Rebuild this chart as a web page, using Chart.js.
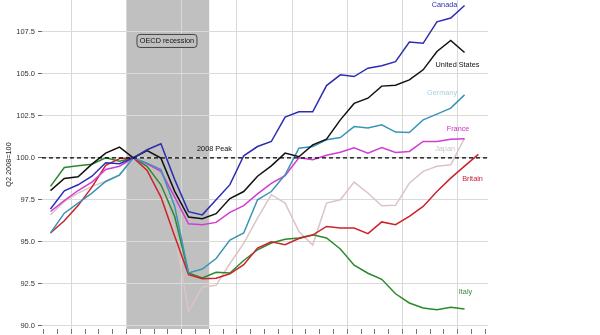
<!DOCTYPE html>
<html lang="en">
<head>
    <meta charset="UTF-8">
    <title>GDP against the 2008 peak</title>
    <script src="https://cdn.jsdelivr.net/npm/chart.js"></script>
    <style>
        html, body {
            margin: 0;
            padding: 0;
            background: #fff;
        }
        .container {
            width: 600px;
            height: 335px;
        }
    </style>
</head>
<body>
    <div class="container">
        <canvas id="gdpChart"></canvas>
    </div>
    <script>
        // quarterly real GDP, Q2 2008 = 100
        const quarters = [
            'Q4 2006',
            'Q1 2007', 'Q2 2007', 'Q3 2007', 'Q4 2007',
            'Q1 2008', 'Q2 2008', 'Q3 2008', 'Q4 2008',
            'Q1 2009', 'Q2 2009', 'Q3 2009', 'Q4 2009',
            'Q1 2010', 'Q2 2010', 'Q3 2010', 'Q4 2010',
            'Q1 2011', 'Q2 2011', 'Q3 2011', 'Q4 2011',
            'Q1 2012', 'Q2 2012', 'Q3 2012', 'Q4 2012',
            'Q1 2013', 'Q2 2013', 'Q3 2013', 'Q4 2013',
            'Q1 2014', 'Q2 2014', 'Q3 2014'
        ];

        const canada = [96.95, 98.03, 98.39, 98.9, 99.7, 99.65, 100, 100.48, 100.83, 98.7, 96.79, 96.6, 97.5, 98.4, 100.12, 100.67,
            100.97, 102.42, 102.74, 102.74, 104.3, 104.94, 104.84, 105.34, 105.48, 105.73, 106.9, 106.82, 108.1, 108.33, 109.07];
        const unitedStates = [98.04, 98.77, 98.87, 99.62, 100.28, 100.64, 100, 100.43, 99.98, 98.0, 96.47, 96.37, 96.67, 97.57, 97.99, 98.9,
            99.52, 100.28, 100.06, 100.77, 101.11, 102.26, 103.24, 103.55, 104.27, 104.32, 104.64, 105.24, 106.33, 106.99, 106.27];
        const germany = [95.52, 96.7, 97.3, 97.9, 98.59, 98.97, 100, 99.68, 99.3, 97.1, 93.14, 93.37, 94.0, 95.1, 95.52, 97.5,
            97.99, 98.99, 100.57, 100.67, 101.07, 101.21, 101.86, 101.77, 101.96, 101.53, 101.5, 102.26, 102.6, 102.96, 103.75];
        const france = [96.8, 97.45, 98.05, 98.55, 99.3, 99.5, 100, 99.64, 99.19, 97.66, 96.07, 96.01, 96.15, 96.75, 97.15, 97.85,
            98.47, 98.94, 100.0, 99.88, 100.15, 100.33, 100.6, 100.28, 100.61, 100.32, 100.38, 100.97, 100.97, 101.11, 101.13];
        const japan = [96.6, 97.4, 97.9, 98.3, 98.6, 99.0, 100, 99.6, 98.4, 95.6, 90.85, 92.3, 92.4, 93.7, 94.9, 96.4,
            97.8, 97.3, 95.6, 94.8, 97.3, 97.5, 98.55, 97.9, 97.14, 97.17, 98.49, 99.19, 99.49, 99.58, 101.17];
        const britain = [95.52, 96.25, 97.15, 98.25, 99.55, 99.95, 100, 99.25, 97.66, 95.32, 93.04, 92.8, 92.82, 93.09, 93.63, 94.62,
            94.99, 94.82, 95.19, 95.39, 95.91, 95.81, 95.81, 95.48, 96.18, 96.01, 96.51, 97.1, 97.99, 98.79, 99.5, 100.2];
        const italy = [98.3, 99.42, 99.52, 99.62, 100.0, 99.8, 100, 99.49, 98.39, 96.5, 93.14, 92.84, 93.18, 93.14, 93.88, 94.52,
            94.92, 95.14, 95.22, 95.42, 95.22, 94.57, 93.6, 93.12, 92.76, 91.9, 91.35, 91.05, 90.95, 91.09, 90.99];

        const yTicks = [90, 92.5, 95, 97.5, 100, 102.5, 105, 107.5];
        const peakLevel = 100;
        // OECD recession, in quarter-index units (edges fall between quarters)
        const recessionFrom = 5.5;
        const recessionTo = 11.5;

        const xMin = -0.616;
        const xMax = 31.7;

        const FONT = 'Liberation Sans, Arial, sans-serif';
        const SHADE = '#c0c0c0';

        const series = [
            { name: 'Canada', values: canada, color: '#2d2db4', text: '#2d2db4', at: [28.55, 109.1] },
            { name: 'United States', values: unitedStates, color: '#111111', text: '#111111', at: [29.49, 105.54] },
            { name: 'Germany', values: germany, color: '#3a94b8', text: '#a9cfe0', at: [28.37, 103.87] },
            { name: 'France', values: france, color: '#d23cd2', text: '#cc33cc', at: [29.53, 101.73] },
            { name: 'Britain', values: britain, color: '#cc2229', text: '#c8203c', at: [30.58, 98.75] },
            { name: 'Italy', values: italy, color: '#2a8a2a', text: '#3a8a3a', at: [30.07, 92.02] },
            { name: 'Japan', values: japan, color: '#dcc4c4', text: '#c9c2c2', at: [28.59, 100.54] }
        ];

        const toPoints = values => values.map((v, i) => ({ x: i, y: v }));

        const datasets = [{
            label: '2008 Peak',
            data: [{ x: xMin, y: peakLevel }, { x: xMax, y: peakLevel }],
            borderColor: '#000',
            borderWidth: 1.3,
            borderDash: [4, 3],
            pointRadius: 0
        }].concat(series.map(s => ({
            label: s.name,
            data: toPoints(s.values),
            borderColor: s.color,
            borderWidth: 1.5,
            pointRadius: 0,
            tension: 0
        })));

        // grey band behind the grid for the recession
        const recessionBand = {
            id: 'recessionBand',
            beforeDraw(chart) {
                const { ctx, chartArea, scales } = chart;
                const x0 = scales.x.getPixelForValue(recessionFrom);
                const x1 = scales.x.getPixelForValue(recessionTo);
                ctx.save();
                ctx.fillStyle = SHADE;
                ctx.fillRect(x0, chartArea.top, x1 - x0, chartArea.bottom - chartArea.top);
                ctx.restore();
            }
        };

        // series names, peak note and the recession tag
        const annotations = {
            id: 'annotations',
            afterDatasetsDraw(chart) {
                const { ctx, scales } = chart;
                ctx.save();
                ctx.font = '7.3px ' + FONT;
                ctx.textBaseline = 'middle';
                ctx.textAlign = 'center';
                series.forEach(s => {
                    ctx.fillStyle = s.text;
                    ctx.fillText(s.name, scales.x.getPixelForValue(s.at[0]), scales.y.getPixelForValue(s.at[1]));
                });

                ctx.fillStyle = '#111';
                ctx.fillText('2008 Peak', scales.x.getPixelForValue(11.88), scales.y.getPixelForValue(100.54));

                const cx = scales.x.getPixelForValue(8.44);
                const cy = scales.y.getPixelForValue(106.96);
                const w = 60, h = 13;
                ctx.beginPath();
                ctx.roundRect(cx - w / 2, cy - h / 2, w, h, 3);
                ctx.fillStyle = SHADE;
                ctx.fill();
                ctx.lineWidth = 1;
                ctx.strokeStyle = '#444';
                ctx.stroke();
                ctx.fillStyle = '#111';
                ctx.fillText('OECD recession', cx, cy + 0.5);
                ctx.restore();
            }
        };

        const ctx = document.getElementById('gdpChart').getContext('2d');
        new Chart(ctx, {
            type: 'line',
            data: { datasets },
            plugins: [recessionBand, annotations],
            options: {
                responsive: true,
                maintainAspectRatio: false,
                animation: false,
                // empty strip on the right, the labels hang into it
                layout: { padding: { top: 0, left: 0, bottom: 0, right: 112 } },
                plugins: {
                    legend: { display: false },
                    tooltip: { enabled: false }
                },
                scales: {
                    x: {
                        type: 'linear',
                        min: xMin,
                        max: xMax,
                        afterBuildTicks: scale => {
                            const t = [];
                            for (let q = -0.5; q <= 31.5; q += 1) t.push({ value: q });
                            scale.ticks = t;
                        },
                        afterFit: scale => {
                            scale.height = 6;
                            scale.paddingLeft = 0;
                            scale.paddingRight = 0;
                        },
                        ticks: { display: false },
                        border: { display: false },
                        grid: {
                            // one gridline per year, a tick per quarter
                            color: c => ((c.tick.value - 1.5) % 4 === 0 ? '#d8d8d8' : 'rgba(0,0,0,0)'),
                            tickColor: '#777',
                            tickLength: 5,
                            lineWidth: 1
                        }
                    },
                    y: {
                        min: 89.8,
                        max: 109.4,
                        afterBuildTicks: scale => {
                            scale.ticks = yTicks.map(v => ({ value: v }));
                        },
                        afterFit: scale => {
                            scale.width = 42;
                            scale.paddingTop = 0;
                            scale.paddingBottom = 0;
                        },
                        border: { display: false },
                        grid: {
                            color: '#dadada',
                            tickColor: '#666',
                            tickLength: 4,
                            lineWidth: 1
                        },
                        ticks: {
                            color: '#333',
                            padding: 3,
                            font: { family: FONT, size: 7.5 },
                            callback: v => v.toFixed(1)
                        },
                        title: {
                            display: true,
                            text: 'Q2 2008=100',
                            color: '#222',
                            font: { family: FONT, size: 7.3 },
                            padding: { top: 5, bottom: 0 }
                        }
                    }
                }
            }
        });
    </script>
</body>
</html>
